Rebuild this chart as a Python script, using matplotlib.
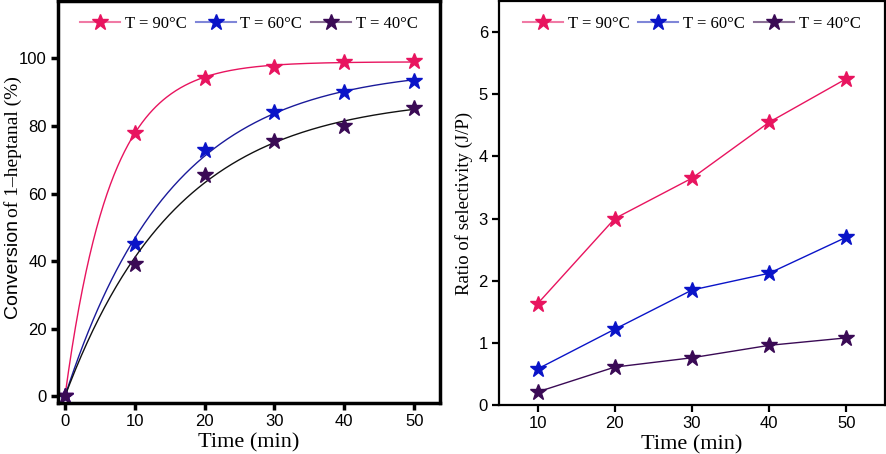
import numpy as np
import matplotlib
matplotlib.use("Agg")
import matplotlib.pyplot as plt

# conversion data (left)
time_conv = [0, 10, 20, 30, 40, 50]
conv_90 = [0, 78, 94.2, 97.6, 99.0, 99.3]
conv_60 = [0, 45, 73, 84, 90, 93.2]
conv_40 = [0, 39, 65.5, 75.5, 80, 85.3]

# selectivity ratio data (right)
time_sel = [10, 20, 30, 40, 50]
sel_90 = [1.63, 3.0, 3.65, 4.55, 5.25]
sel_60 = [0.58, 1.22, 1.85, 2.12, 2.70]
sel_40 = [0.21, 0.61, 0.76, 0.96, 1.08]

labels = ["T = 90°C", "T = 60°C", "T = 40°C"]
cols = ["#e8145f", "#0a14c8", "#3a0a55"]
fitcols = ["#e8145f", "#1a1a9a", "#111111"]
legcols = ["#f07aa5", "#7f86d8", "#8a6f95"]

serif = "Liberation Serif"
sans = "Liberation Sans"


def fit_exp(t, y):
    # y = A(1 - exp(-k t)), least squares over k
    t = np.asarray(t, float)
    y = np.asarray(y, float)
    best = None
    for k in np.linspace(0.005, 0.6, 3000):
        f = 1 - np.exp(-k * t)
        A = (f @ y) / (f @ f)
        err = np.sum((A * f - y) ** 2)
        if best is None or err < best[0]:
            best = (err, A, k)
    return best[1], best[2]


fig = plt.figure(figsize=(8.86, 4.54), dpi=100)
ax1 = fig.add_axes([58 / 886, 51 / 454, 382 / 886, 402 / 454])
ax2 = fig.add_axes([499 / 886, 49 / 454, 386 / 886, 404 / 454])

tt = np.linspace(0, 50, 300)
for y, c, fc in zip([conv_90, conv_60, conv_40], cols, fitcols):
    A, k = fit_exp(time_conv, y)
    ax1.plot(tt, A * (1 - np.exp(-k * tt)), color=fc, lw=1.0)
    ax1.plot(time_conv, y, ls="none", marker="*", ms=12, color=c)

for y, c in zip([sel_90, sel_60, sel_40], cols):
    ax2.plot(time_sel, y, color=c, lw=1.0, marker="*", ms=12)

# legends
for ax in (ax1, ax2):
    handles = [plt.Line2D([], [], color=lc, lw=1.5, marker="*", ms=12,
                          mfc=c, mec=c) for lc, c in zip(legcols, cols)]
    ax.legend(handles, labels, loc="upper center", ncol=3, frameon=False,
              prop={"family": serif, "size": 12}, handlelength=2.4,
              handletextpad=0.3, columnspacing=0.5, borderaxespad=0.5,
              bbox_to_anchor=(0.5, 1.0))

ax1.set_xlim(-1, 53.7)
ax1.set_ylim(-2, 117)
ax1.set_xticks([0, 10, 20, 30, 40, 50])
ax1.set_yticks([0, 20, 40, 60, 80, 100])
ax2.set_xlim(5, 55)
ax2.set_ylim(0, 6.5)
ax2.set_xticks([10, 20, 30, 40, 50])
ax2.set_yticks([0, 1, 2, 3, 4, 5, 6])

for ax, lw in ((ax1, 2.5), (ax2, 1.6)):
    for s in ax.spines.values():
        s.set_linewidth(lw)
    ax.tick_params(direction="out", width=lw, length=5, labelsize=12, pad=3)
    for lab in ax.get_xticklabels() + ax.get_yticklabels():
        lab.set_fontfamily(sans)
    ax.set_xlabel("Time (min)", family=serif, fontsize=16, labelpad=3)

ax2.set_ylabel("Ratio of selectivity (J/P)", family=serif, fontsize=13.5, labelpad=4)

# mixed-font y label on the left panel
t1 = fig.text(13 / 886, 1 - 318 / 454, "Conversion", family=sans, fontsize=14,
              rotation=90, ha="center", va="bottom")
fig.canvas.draw()
bb = t1.get_window_extent(fig.canvas.get_renderer())
fig.text(13 / 886, bb.y1 / fig.bbox.height + 0.004, "of 1\u2013heptanal (%)",
         family=serif, fontsize=14, rotation=90, ha="center", va="bottom")

fig.savefig("out.png", dpi=100)
